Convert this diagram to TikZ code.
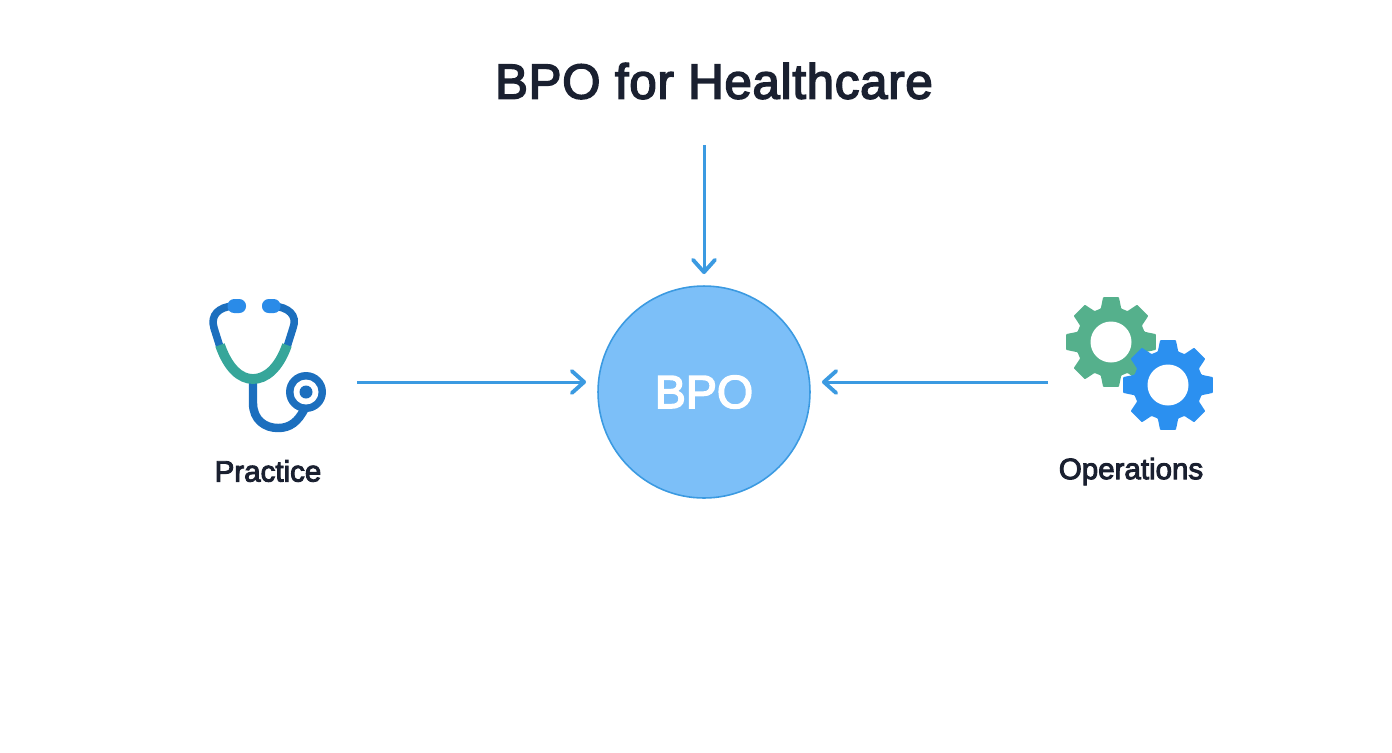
\documentclass[tikz,border=0pt]{standalone}
\usepackage{fontspec}
\setmainfont{Liberation Sans}
\newfontfamily\headfont{Liberation Sans}[FakeBold=3.2,LetterSpace=1.5]
\newfontfamily\smallfont{Liberation Sans}[FakeBold=3.2]
\usetikzlibrary{arrows.meta}
\definecolor{flowblue}{HTML}{3B9AE1}
\definecolor{bpofill}{HTML}{7CBFF8}
\definecolor{inkdark}{HTML}{1A2030}
\definecolor{tubeblue}{HTML}{1C6FBE}
\definecolor{earblue}{HTML}{2A8BE8}
\definecolor{tubeteal}{HTML}{36A69A}
\definecolor{geargreen}{HTML}{55B08C}
\definecolor{gearblue}{HTML}{2B90F0}
\tikzset{
  flow/.style={draw=flowblue,line width=1.7pt,-{Straight Barb[length=7pt,width=12.5pt,line width=2.2pt,round]}},
  tube/.style={line width=4.3pt,tubeblue,line cap=round},
  iconlabel/.style={text=inkdark,font=\smallfont\fontsize{16.8}{20}\selectfont}
}
\newcommand{\gearat}[3]{
\begin{scope}[shift={(#1,#2)}]
\fill[#3,rounded corners=0.4pt] (-17:35) \foreach \a in {0,45,...,315} {-- (\a-17:35) -- (\a-10:45.5) -- (\a+10:45.5) -- (\a+17:35)} -- cycle;
\fill[white] (0,0) circle (20.5);
\end{scope}
}
\begin{document}
\begin{tikzpicture}[x=0.02cm,y=-0.02cm]
\useasboundingbox (0,0) rectangle (1392,752);

\node (title) at (714,81) {\headfont\fontsize{28}{32}\selectfont\textcolor{inkdark}{BPO for Healthcare}};
\node[circle,draw=flowblue,line width=0.9pt,fill=bpofill,minimum size=6cm*0.7067,inner sep=0pt,outer sep=6.8pt,text=white,font=\smallfont\fontsize{26.5}{30}\selectfont] (bpo) at (704,392) {BPO};
\node[iconlabel] (practice) at (268,471) {Practice};
\node[iconlabel] (operations) at (1131,471.5) {Operations};

% stethoscope
\draw[tube] (220,347) -- (214,328) .. controls (210,315) and (219,307) .. (233,306);
\draw[tube] (287,347) -- (293,328) .. controls (298,315) and (288,307) .. (273,306);
\fill[earblue,rounded corners=3.8pt] (227.5,299) rectangle (246,313);
\fill[earblue,rounded corners=3.8pt] (262,299) rectangle (280.5,313);
\draw[tube,line width=4.8pt,line cap=butt] (253,380) -- (253,403) .. controls (253,420) and (265,428) .. (278,428) .. controls (290,428) and (298,422) .. (305,408);
\draw[tubeteal,line width=5.6pt] (220,345) .. controls (228,368) and (240,379) .. (253,379) .. controls (266,379) and (279,368) .. (287,345);
\fill[tubeblue] (306,392) circle (20);
\fill[white] (306,392) circle (12.5);
\fill[tubeblue] (306,392) circle (6.5);

% gears
\gearat{1111}{342}{geargreen}
\gearat{1168}{385}{gearblue}

% arrows
\coordinate (titletail) at (704,145);
\coordinate (practicetail) at (357,382);
\coordinate (operationstail) at (1048,382);
\draw[flow] (titletail) -- (titletail |- bpo.north);
\draw[flow] (practicetail) -- (practicetail -| bpo.west);
\draw[flow] (operationstail) -- (operationstail -| bpo.east);

\end{tikzpicture}
\end{document}
